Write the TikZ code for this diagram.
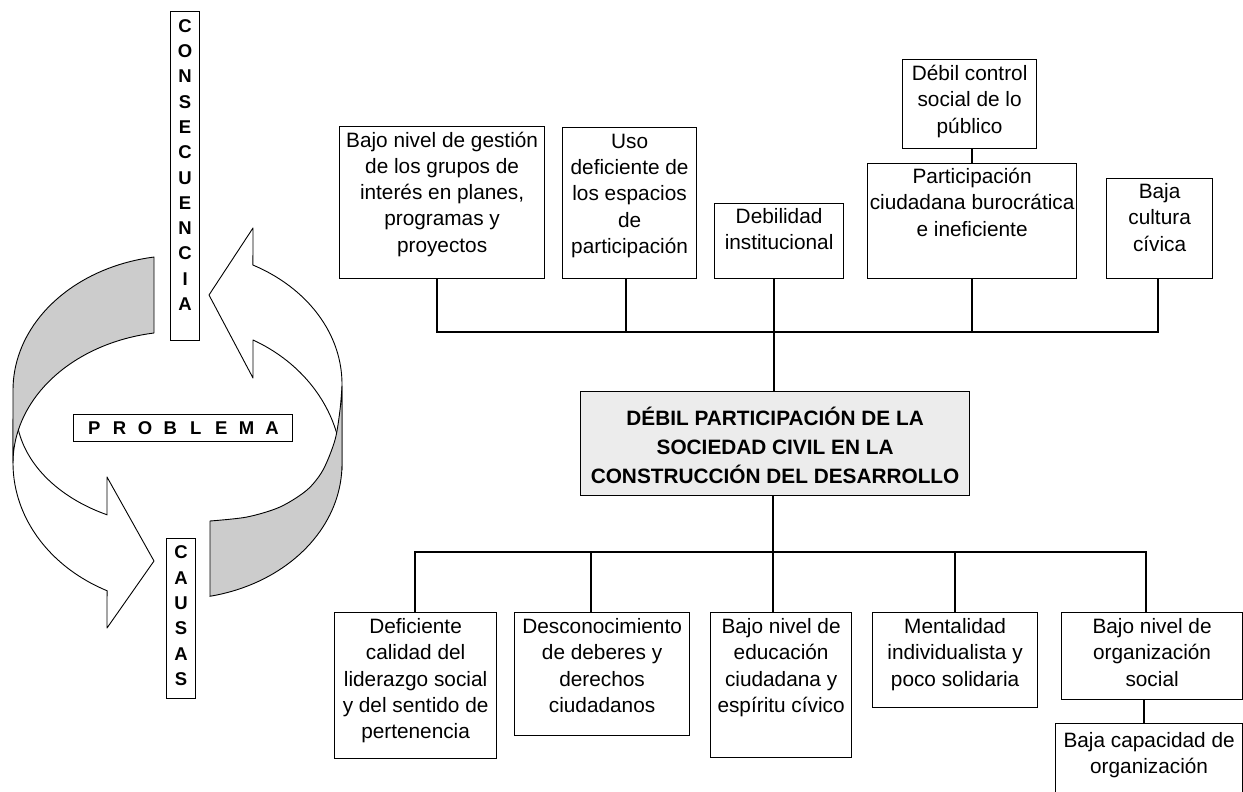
\documentclass[tikz,border=0pt]{standalone}
\usepackage{fontspec}
\setmainfont{Liberation Sans}
\usetikzlibrary{calc}
\newcommand\boxtext[4]{\parbox[t][#2pt][t]{#1pt}{\centering\rule{0pt}{#3pt}#4}}
\newcommand\ltr[1]{\makebox[25.4pt]{#1}}
\begin{document}
\begin{tikzpicture}[x=1pt,y=-1pt,font=\fontsize{20.8}{26.3}\selectfont,
  tbox/.style={draw,line width=1.2pt,anchor=north west,inner sep=0pt,fill=white},
  conn/.style={line width=1.8pt},
  arrw/.style={draw=black,line width=0.9pt,line join=round}]
\useasboundingbox (0,0) rectangle (1243,792);

% ---- circular arrows (left) ----
\filldraw[arrw,fill=white] (13,420) -- (13,463)
  -- plot[domain=0:64.1,samples=40,variable=\t] ({180-167*cos(\t)},{463+142*sin(\t)})
  -- (107,628) -- (154,561) -- (107,477) -- (107,515)
  -- plot[domain=63.6:0,samples=40,variable=\t] ({180-164*cos(\t)},{410+117*sin(\t)})
  -- cycle;
\filldraw[arrw,fill=white] (342,470) -- (342,384)
  -- plot[domain=0:62.6,samples=40,variable=\t] ({177+165*cos(\t)},{384-134*sin(\t)})
  -- (253,228) -- (209,295) -- (253,378) -- (253,340)
  -- plot[domain=62.6:0,samples=40,variable=\t] ({177+165*cos(\t)},{470-146.5*sin(\t)})
  -- cycle;
\filldraw[arrw,fill=gray!40] (154,333) -- (154,257)
  -- plot[domain=81:0,samples=40,variable=\t] ({180-167*cos(\t)},{390-134.6*sin(\t)})
  -- (13,463)
  -- plot[domain=0:81,samples=40,variable=\t] ({180-167*cos(\t)},{463-131.6*sin(\t)})
  -- cycle;
\filldraw[arrw,fill=gray!40] (210,521) -- (210,596.3)
  -- plot[domain=78.5:0,samples=40,variable=\t] ({177+165*cos(\t)},{464+135*sin(\t)})
  -- (342,386)
  -- plot[smooth] coordinates {(342,386) (340,410) (335,440) (323,470) (307,490) (280,507) (247,517) (210,521)}
  -- cycle;

% ---- letter boxes ----
\node[tbox] (cons) at (170,11) {\boxtext{29}{329}{20.7}{\bfseries\fontsize{18.5}{25.3}\selectfont C\\O\\N\\S\\E\\C\\U\\E\\N\\C\\I\\A}};
\node[tbox] (caus) at (166,538) {\boxtext{29}{160}{20.3}{\bfseries\fontsize{18.5}{25.3}\selectfont C\\A\\U\\S\\A\\S}};
\node[tbox] (prob) at (73,414) {\boxtext{219}{27}{20}{\bfseries\fontsize{18.5}{25}\selectfont\ltr{P}\ltr{R}\ltr{O}\ltr{B}\ltr{L}\ltr{E}\ltr{M}\ltr{A}}};

% ---- top boxes ----
\node[tbox] (b1) at (339,126) {\boxtext{205}{152}{20.5}{Bajo nivel de gestión\\de los grupos de\\interés en planes,\\programas y\\proyectos}};
\node[tbox] (b2) at (562,127) {\boxtext{134}{151}{20.5}{Uso\\deficiente de\\los espacios\\de\\participación}};
\node[tbox] (b3) at (714,203) {\boxtext{129}{75}{20}{Debilidad\\institucional}};
\node[tbox] (b4) at (902,59) {\boxtext{134}{89}{21}{Débil control\\social de lo\\público}};
\node[tbox] (b5) at (867,163) {\boxtext{209}{115}{20}{Participación\\ciudadana burocrática\\e ineficiente}};
\node[tbox] (b6) at (1106,178) {\boxtext{106}{100}{20}{Baja\\cultura\\cívica}};

% ---- central problem ----
\node[tbox,fill=gray!15] (cen) at (580,391) {\boxtext{389}{104}{34}{\bfseries\fontsize{20.8}{29}\selectfont DÉBIL PARTICIPACIÓN DE LA\\SOCIEDAD CIVIL EN LA\\CONSTRUCCIÓN DEL DESARROLLO}};

% ---- bottom boxes ----
\node[tbox] (c1) at (334,612) {\boxtext{162}{146}{21}{Deficiente\\calidad del\\liderazgo social\\y del sentido de\\pertenencia}};
\node[tbox] (c2) at (514,612) {\boxtext{175}{123}{21}{Desconocimiento\\de deberes y\\derechos\\ciudadanos}};
\node[tbox] (c3) at (710,612) {\boxtext{141}{145}{21}{Bajo nivel de\\educación\\ciudadana y\\espíritu cívico}};
\node[tbox] (c4) at (872,612) {\boxtext{165}{95}{21}{Mentalidad\\individualista y\\poco solidaria}};
\node[tbox] (c5) at (1061,612) {\boxtext{181}{87}{21}{Bajo nivel de\\organización\\social}};
\node[tbox] (c6) at (1055,723) {\boxtext{187}{95}{24}{Baja capacidad de\\organización}};

% ---- connectors top ----
\coordinate (busT) at (773,332);
\coordinate (t1) at ([xshift=-5.5pt]b1.south);
\coordinate (t2) at ([xshift=-4pt]b2.south);
\coordinate (t3) at ([xshift=-5.5pt]b3.south);
\coordinate (t6) at ([xshift=-2pt]b6.south);
\draw[conn] (t1) -- (t1 |- busT) -- (t6 |- busT) -- (t6);
\draw[conn] (t2) -- (t2 |- busT);
\draw[conn] (t3) -- (t3 |- cen.north);
\draw[conn] (b5.south) -- (b5.south |- busT);
\draw[conn] (b5.north) -- (b5.north |- b4.south);

% ---- connectors bottom ----
\coordinate (busB) at (772,552);
\coordinate (cb) at ([xshift=-2.5pt]cen.south);
\coordinate (d1) at ([xshift=-1pt]c1.north);
\coordinate (d2) at ([xshift=-11.5pt]c2.north);
\coordinate (d3) at ([xshift=-8.5pt]c3.north);
\coordinate (d5) at ([xshift=-6.5pt]c5.north);
\coordinate (e1) at ([xshift=-8.5pt]c5.south);
\draw[conn] (cb) -- (cb |- busB);
\draw[conn] (d1) -- (d1 |- busB) -- (d5 |- busB) -- (d5);
\draw[conn] (d2) -- (d2 |- busB);
\draw[conn] (d3) -- (d3 |- busB);
\draw[conn] (c4.north) -- (c4.north |- busB);
\draw[conn] (e1) -- (e1 |- c6.north);
\end{tikzpicture}
\end{document}
